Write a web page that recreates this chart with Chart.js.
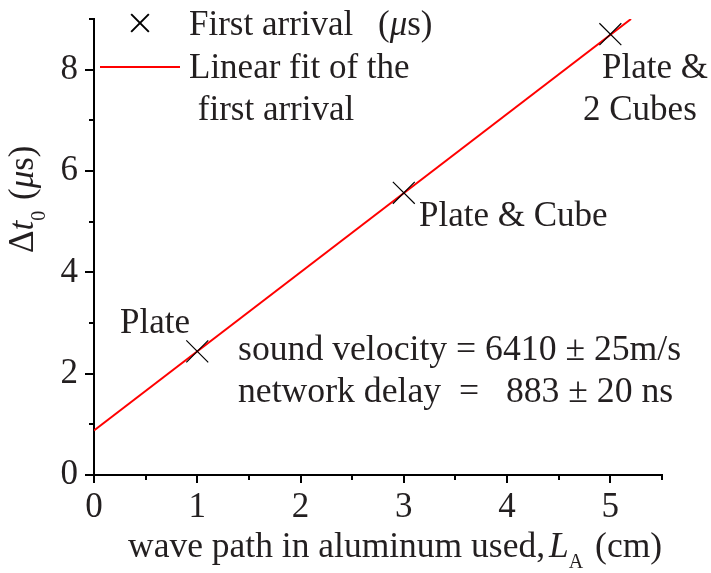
<!DOCTYPE html>
<html lang="en">
<head>
  <meta charset="UTF-8">
  <title>First arrival vs wave path</title>
  <script src="https://cdn.jsdelivr.net/npm/chart.js@4.4.1/dist/chart.umd.min.js"></script>
  <style>
    body { margin: 0; background: #fff; }
  </style>
</head>
<body>
  <canvas id="arrivalChart" width="711" height="573"></canvas>

  <script>
    // data
    const pathCm = [1, 3, 5];
    const firstArrival = [2.44, 5.57, 8.70];
    const fitPathCm = [0, 5.2];
    const fitArrival = [0.88, 9.0];
    const pointNames = ['Plate', 'Plate & Cube', 'Plate &', '2 Cubes'];
    const fitNotes = ['sound velocity = 6410 \u00b1 25m/s', 'network delay  =   883 \u00b1 20 ns'];

    const FONT = '"Liberation Serif", "Times New Roman", "DejaVu Serif", serif';
    const INK = '#231f20';

    Chart.defaults.font.family = FONT;
    Chart.defaults.font.size = 35;
    Chart.defaults.color = INK;

    // draw text made of pieces (italic, subscript)
    function drawRuns(ctx, runs, x, y, base) {
      runs.forEach(r => {
        ctx.font = (r.italic ? 'italic ' : '') + (r.size || base || 35) + 'px ' + FONT;
        ctx.fillText(r.t, x, y + (r.dy || 0));
        x += ctx.measureText(r.t).width + (r.gap || 0);
      });
    }

    const decorPlugin = {
      id: 'decor',
      afterDraw(chart) {
        const ctx = chart.ctx;
        const xs = chart.scales.x, ys = chart.scales.y;
        const area = chart.chartArea;
        ctx.save();

        // major / minor ticks, outside
        ctx.strokeStyle = '#000';
        ctx.lineWidth = 2;
        xs.ticks.forEach(t => {
          const px = Math.round(xs.getPixelForValue(t.value));
          const len = Number.isInteger(t.value) ? 8 : 5;
          ctx.beginPath();
          ctx.moveTo(px, area.bottom);
          ctx.lineTo(px, area.bottom + len);
          ctx.stroke();
        });
        ys.ticks.forEach(t => {
          const py = Math.round(ys.getPixelForValue(t.value));
          const len = t.value % 2 === 0 ? 9 : 5;
          ctx.beginPath();
          ctx.moveTo(area.left, py);
          ctx.lineTo(area.left - len, py);
          ctx.stroke();
        });

        ctx.fillStyle = INK;
        ctx.textBaseline = 'alphabetic';
        ctx.textAlign = 'left';

        // legend
        Chart.helpers.drawPoint(ctx, {
          pointStyle: 'crossRot', radius: 12.5, borderWidth: 1.2,
          borderColor: '#000', rotation: 0
        }, 140, 23);
        ctx.strokeStyle = '#ff0000';
        ctx.lineWidth = 2;
        ctx.beginPath();
        ctx.moveTo(100, 67);
        ctx.lineTo(180, 67);
        ctx.stroke();
        ctx.fillStyle = INK;
        ctx.font = '35px ' + FONT;
        ctx.fillText(chart.data.datasets[0].label, 189, 35);
        drawRuns(ctx, [{ t: '(' }, { t: '\u03bc', italic: true }, { t: 's)' }], 378, 35);
        ctx.font = '35px ' + FONT;
        ctx.fillText('Linear fit of the', 189, 78);
        ctx.fillText(' first arrival', 189, 120);

        // point labels
        ctx.fillText(pointNames[0], 120, 333);
        ctx.fillText(pointNames[1], 419, 226);
        ctx.fillText(pointNames[2], 602, 78);
        ctx.fillText(pointNames[3], 583, 120);

        // fit results
        ctx.font = '35.7px ' + FONT;
        ctx.fillText(fitNotes[0], 238, 360);
        ctx.fillText(fitNotes[1], 238, 402);

        // x title
        drawRuns(ctx, [
          { t: 'wave path in aluminum used,', gap: 4 },
          { t: 'L', italic: true },
          { t: 'A', size: 20, dy: 11, gap: 3 },
          { t: ' (cm)' }
        ], 128, 557, 35.5);

        // y title, rotated
        ctx.translate(33, 253);
        ctx.rotate(-Math.PI / 2);
        drawRuns(ctx, [
          { t: '\u0394' },
          { t: 't', italic: true },
          { t: '0', size: 20, dy: 12, gap: 2 },
          { t: ' (' },
          { t: '\u03bc', italic: true },
          { t: 's)' }
        ], 0, 0);

        ctx.restore();
      }
    };

    const ctx = document.getElementById('arrivalChart').getContext('2d');

    const chart = new Chart(ctx, {
      type: 'scatter',
      data: {
        datasets: [{
          label: 'First arrival',
          data: pathCm.map((x, i) => ({ x: x, y: firstArrival[i] })),
          pointStyle: 'crossRot',
          pointRadius: 15.5,
          pointHoverRadius: 15.5,
          borderColor: '#000',
          backgroundColor: '#000',
          pointBorderWidth: 1.2,
          clip: false,
          order: 1
        }, {
          label: 'Linear fit of the first arrival',
          type: 'line',
          data: fitPathCm.map((x, i) => ({ x: x, y: fitArrival[i] })),
          borderColor: '#ff0000',
          borderWidth: 2,
          pointRadius: 0,
          fill: false,
          tension: 0,
          order: 2
        }]
      },
      options: {
        responsive: false,
        animation: false,
        events: [],
        layout: { padding: { top: 19, right: 49, left: 0, bottom: 0 } },
        plugins: {
          legend: { display: false },
          tooltip: { enabled: false }
        },
        scales: {
          x: {
            type: 'linear',
            min: 0,
            max: 5.5,
            grid: { display: false, drawTicks: false },
            border: { display: true, color: '#000', width: 2 },
            ticks: {
              stepSize: 0.5,
              autoSkip: false,
              maxRotation: 0,
              padding: 12,
              callback: v => Number.isInteger(v) ? v : ''
            },
            afterFit: scale => {
              scale.height = 98;
              scale.paddingLeft = 0;
              scale.paddingRight = 0;
            }
          },
          y: {
            type: 'linear',
            min: 0,
            max: 9,
            grid: { display: false, drawTicks: false },
            border: { display: true, color: '#000', width: 2 },
            ticks: {
              stepSize: 1,
              padding: 16,
              callback: v => v % 2 === 0 ? v : ''
            },
            afterFit: scale => {
              scale.width = 94;
              scale.paddingTop = 0;
              scale.paddingBottom = 0;
            }
          }
        }
      },
      plugins: [decorPlugin]
    });
  </script>
</body>
</html>
